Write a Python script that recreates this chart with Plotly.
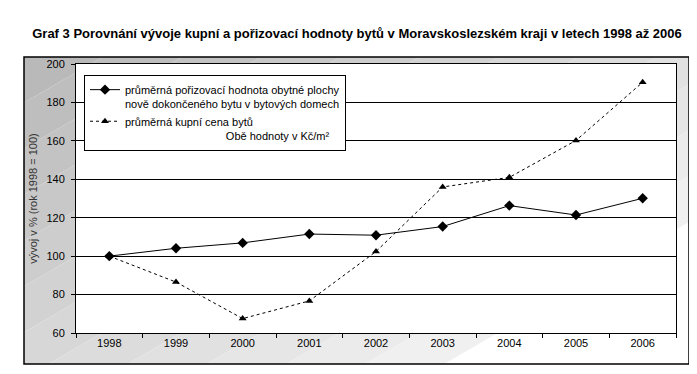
import plotly.graph_objects as go

years = ["1998", "1999", "2000", "2001", "2002", "2003", "2004", "2005", "2006"]
porizovaci = [100, 104.1, 106.9, 111.5, 110.9, 115.4, 126.3, 121.4, 130.1]
kupni = [100, 86.5, 67.5, 76.7, 102.4, 136.0, 141.0, 160.2, 190.5]
y_ticks = [60, 80, 100, 120, 140, 160, 180, 200]

W, H = 697, 374
L, R, T, B = 68, 668, 56, 325  # plot area in pixels


def px2paper(X, Y):
    return (X - L) / (R - L), (B - Y) / (B - T)


def clip(poly, f):
    out = []
    n = len(poly)
    for i in range(n):
        a, b = poly[i], poly[(i + 1) % n]
        fa, fb = f(a), f(b)
        if fa >= 0:
            out.append(a)
        if (fa >= 0) != (fb >= 0):
            t = fa / (fa - fb)
            out.append((a[0] + t * (b[0] - a[0]), a[1] + t * (b[1] - a[1])))
    return out


bx0, by0, bx1, by1 = 16, 49, 681, 356
rect = [(bx0, by0), (bx1, by0), (bx1, by1), (bx0, by1)]
slope = 0.58
kmin, kwhite = 58, 609
nb = 12
shapes = []
x0p, y0p = px2paper(bx0, by0)
x1p, y1p = px2paper(bx1, by1)
shapes.append(dict(type="rect", xref="paper", yref="paper", x0=x0p, y0=y1p, x1=x1p, y1=y0p,
                   fillcolor="white", line=dict(width=0), layer="below"))
edges = [kmin + (kwhite - kmin) * i / nb for i in range(nb + 1)]
edges[0] = kmin - 5
for i in range(nb):
    k1, k2 = edges[i], edges[i + 1]
    poly = clip(rect, lambda p, k1=k1: p[1] + slope * p[0] - k1)
    poly = clip(poly, lambda p, k2=k2: k2 - (p[1] + slope * p[0]))
    if len(poly) < 3:
        continue
    frac = (i + 0.5) / nb
    c = int(round(182 + (243 - 182) * frac))
    pts = [px2paper(*p) for p in poly]
    path = "M " + " L ".join(f"{x:.5f},{y:.5f}" for x, y in pts) + " Z"
    shapes.append(dict(type="path", xref="paper", yref="paper", path=path,
                       fillcolor=f"rgb({c},{c},{c})", line=dict(width=0), layer="below"))
# white plot area on top of the gradient
shapes.append(dict(type="rect", xref="paper", yref="paper", x0=0, y0=0, x1=1, y1=1,
                   fillcolor="white", line=dict(width=0), layer="below"))
shapes.append(dict(type="rect", xref="paper", yref="paper", x0=x0p, y0=y1p, x1=x1p, y1=y0p,
                   fillcolor="rgba(0,0,0,0)", line=dict(color="black", width=1.5), layer="below"))

fig = go.Figure()
fig.add_trace(go.Scatter(
    x=years, y=porizovaci, mode="lines+markers",
    name="průměrná pořizovací hodnota obytné plochy<br>nově dokončeného bytu v bytových domech",
    line=dict(color="black", width=1),
    marker=dict(symbol="diamond", size=8, color="black"),
))
fig.add_trace(go.Scatter(
    x=years, y=kupni, mode="lines+markers",
    name="průměrná kupní cena bytů<br>" + "\u00a0" * 33 + "Obě hodnoty v Kč/m²",
    line=dict(color="black", width=1, dash="3px,3px"),
    marker=dict(symbol="triangle-up", size=7, color="black"),
))

font = "Arial, Liberation Sans, sans-serif"
fig.update_layout(
    width=W, height=H,
    margin=dict(l=L, r=W - R, t=T, b=H - B),
    paper_bgcolor="white", plot_bgcolor="white",
    shapes=shapes,
    font=dict(family=font, size=11, color="black"),
    title=dict(
        text="<b>Graf 3 Porovnání vývoje kupní a pořizovací hodnoty bytů v Moravskoslezském kraji v letech 1998 až 2006</b>",
        x=349 / W, xref="container", xanchor="center", y=1 - 25 / H, yref="container", yanchor="middle",
        font=dict(family="Liberation Sans, Arial, sans-serif", size=13, color="black"),
    ),
    showlegend=True,
    legend=dict(
        x=(76 - L) / (R - L), y=(B - 67) / (B - T), xanchor="left", yanchor="top",
        bgcolor="white", bordercolor="black", borderwidth=1,
        font=dict(family=font, size=11, color="black"),
        valign="top", tracegroupgap=0, itemwidth=30,
    ),
    xaxis=dict(
        type="category", tickson="boundaries", ticks="outside", ticklen=4,
        tickcolor="black", showline=True, linecolor="black", linewidth=1, mirror=True,
        showgrid=False, tickfont=dict(size=11), range=[-0.5, 8.5],
    ),
    yaxis=dict(
        range=[60, 200], tickvals=y_ticks, ticks="outside", ticklen=4, tickcolor="black",
        showline=True, linecolor="black", linewidth=1, mirror=True,
        showgrid=True, gridcolor="black", gridwidth=1, zeroline=False,
        tickfont=dict(size=11), ticklabelstandoff=4,
        title=dict(text="vývoj v % (rok 1998 = 100)", font=dict(size=11, color="#333333"), standoff=6),
    ),
)

fig.write_html("out.html")
